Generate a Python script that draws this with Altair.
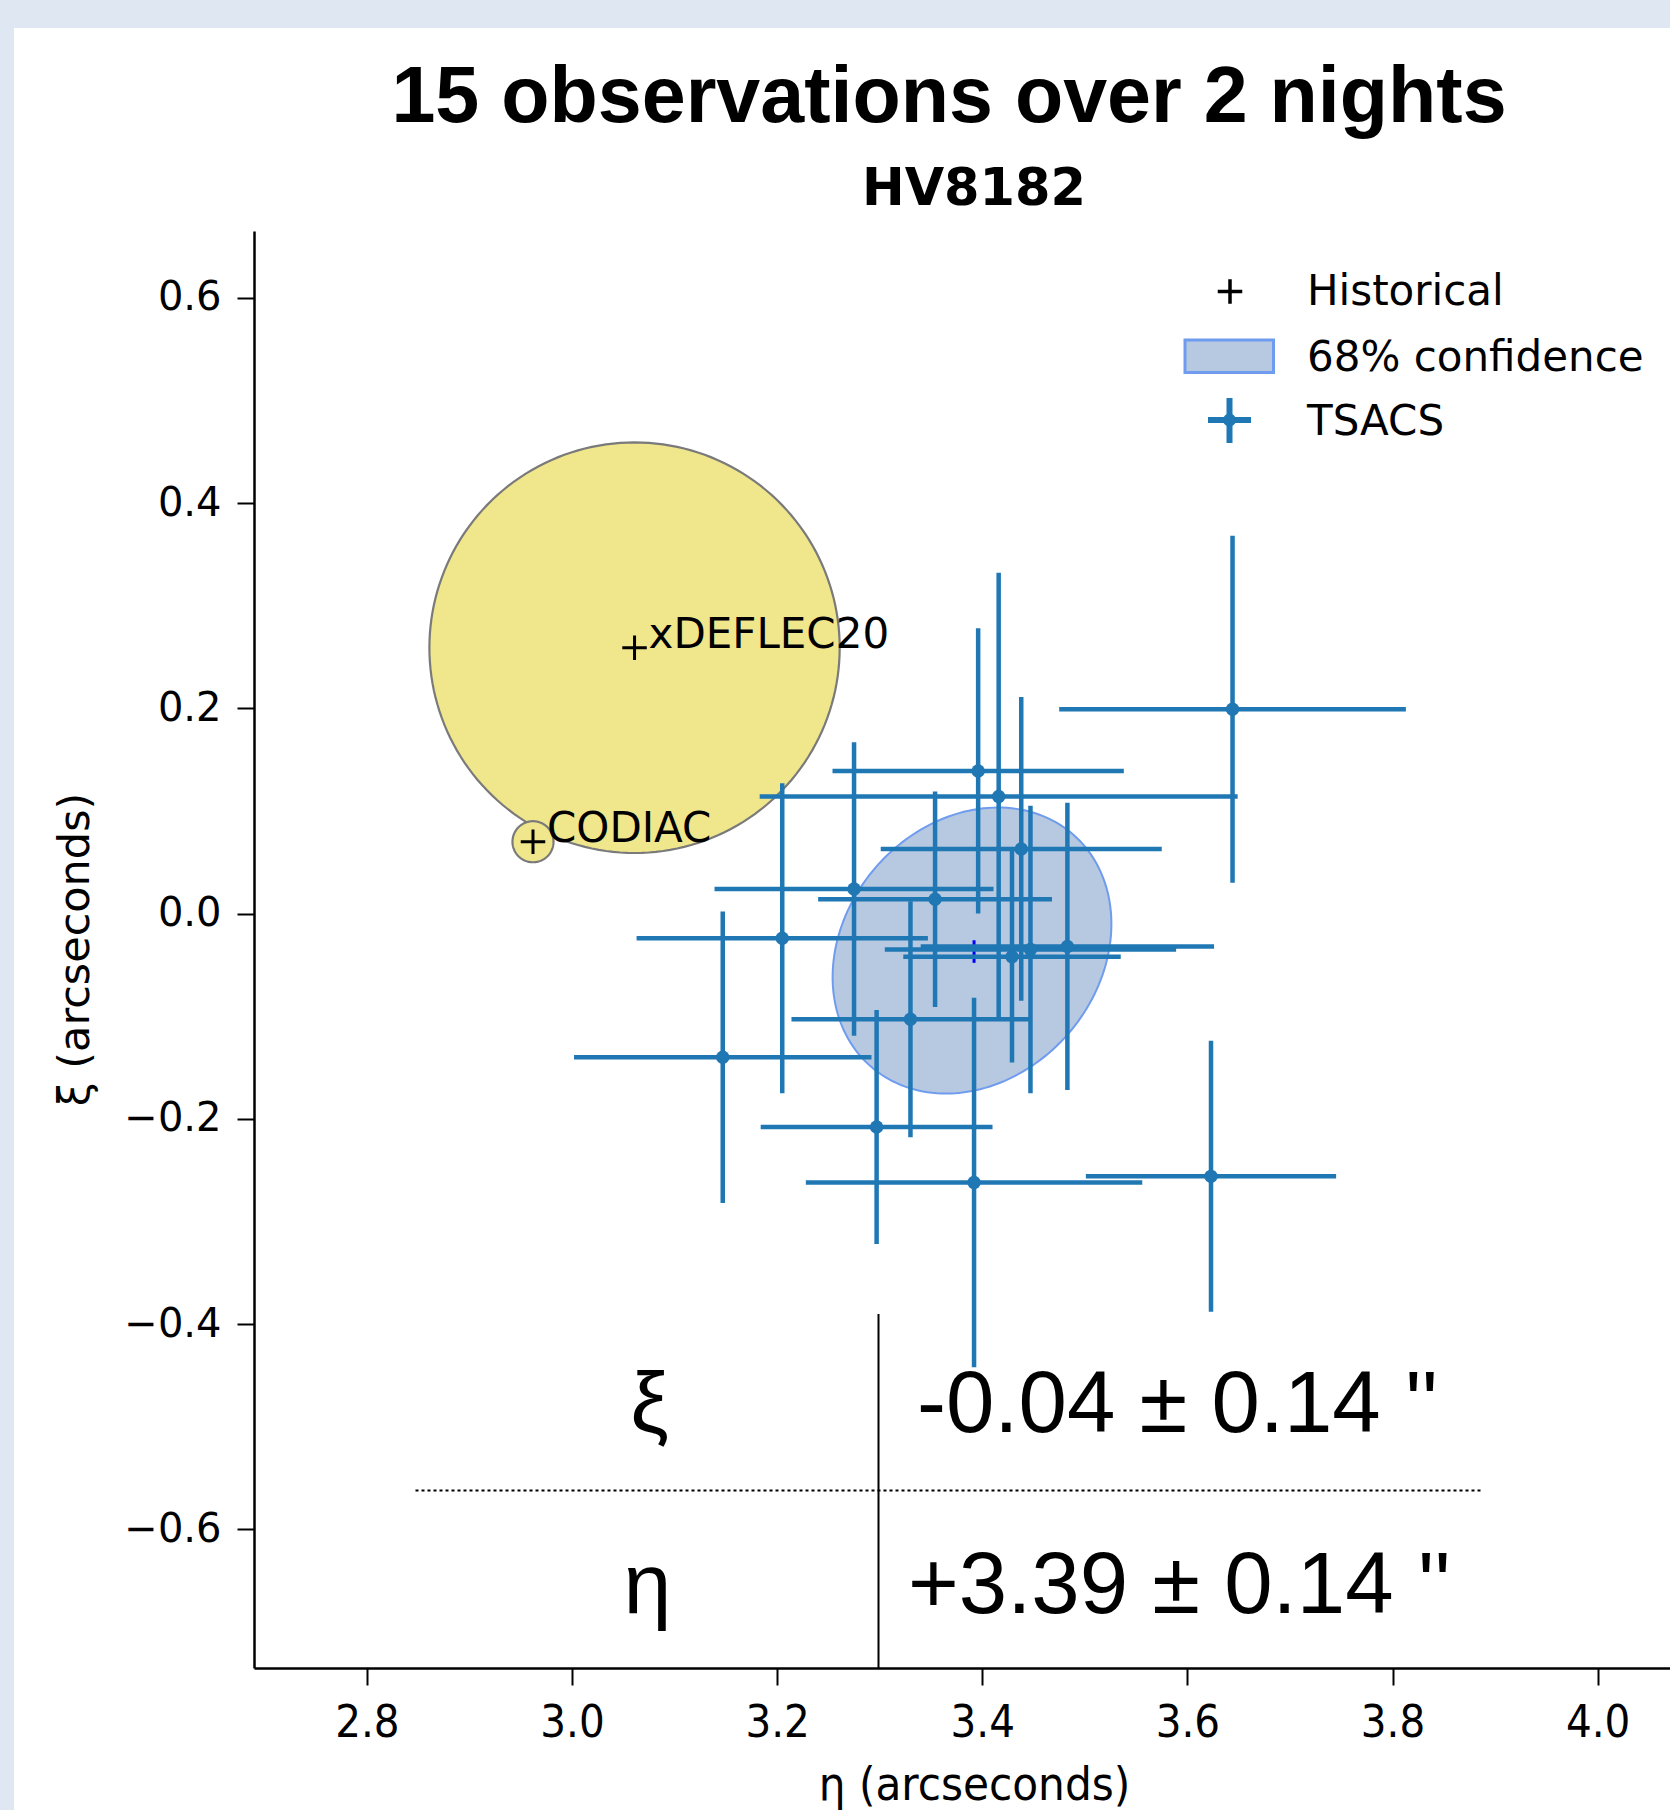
import altair as alt
import pandas as pd

# ----------------------------- data -----------------------------
tsacs_eta = [3.644, 3.396, 3.416, 3.438, 3.275, 3.354, 3.330, 3.205,
             3.147, 3.297, 3.392, 3.623, 3.483, 3.429, 3.447]
tsacs_xi = [0.199, 0.139, 0.114, 0.063, 0.024, 0.014, -0.103, -0.024,
            -0.140, -0.208, -0.262, -0.256, -0.032, -0.042, -0.035]
tsacs_eta_err = [0.169, 0.142, 0.233, 0.137, 0.136, 0.114, 0.116, 0.142,
                 0.145, 0.113, 0.164, 0.122, 0.143, 0.106, 0.142]
tsacs_xi_err = [0.169, 0.139, 0.218, 0.148, 0.143, 0.105, 0.115, 0.151,
                0.142, 0.114, 0.180, 0.132, 0.140, 0.103, 0.140]

hist_names = ["xDEFLEC20", "CODIAC"]
hist_eta = [3.061, 2.962]
hist_xi = [0.259, 0.070]
hist_radius = [0.200, 0.020]

conf_eta = [3.390]
conf_xi = [-0.036]
conf_semi_major = [0.150]
conf_semi_minor = [0.124]
conf_angle_deg = [48.8]

mean_eta = [3.392]
mean_xi = [-0.037]
mean_xi_err = [0.011]

result_symbols = ["ξ", "η"]
result_values = ["-0.04 ± 0.14 ''", "+3.39 ± 0.14 ''"]

legend_labels = ["Historical", "68% confidence", "TSACS"]

x_ticks = [2.8, 3.0, 3.2, 3.4, 3.6, 3.8, 4.0]
y_ticks = [-0.6, -0.4, -0.2, 0.0, 0.2, 0.4, 0.6]

slide_title = "15 observations over 2 nights"
plot_title = "HV8182"
x_title = "η (arcseconds)"
y_title = "ξ (arcseconds)"

# ----------------------------- tables -----------------------------
tsacs_df = pd.DataFrame({"eta": tsacs_eta, "xi": tsacs_xi,
                         "eta_err": tsacs_eta_err, "xi_err": tsacs_xi_err})
hist_df = pd.DataFrame({"name": hist_names, "eta": hist_eta, "xi": hist_xi, "r": hist_radius})
conf_df = pd.DataFrame({"cx": conf_eta, "cy": conf_xi, "a": conf_semi_major,
                        "b": conf_semi_minor, "ang": conf_angle_deg})
mean_df = pd.DataFrame({"eta": mean_eta, "xi": mean_xi, "err": mean_xi_err})

# ----------------------------- layout / style -----------------------------
W, H = 1416, 1437
BLUE = "#1f77b4"
KHAKI = "#f0e68c"
EDGE_GRAY = "#7a7a7a"
CONF_FILL = "#b7c8e1"
CONF_EDGE = "#6f9cee"
PLUS = "M-1,0L1,0M0,-1L0,1"

xs = alt.Scale(domain=[2.69, 4.0705], nice=False, zero=False)
ys = alt.Scale(domain=[-0.735, 0.665], nice=False, zero=False)

x_axis = alt.Axis(
    title=x_title, values=x_ticks, format=".1f", grid=False, zindex=1,
    labelFont="DejaVu Sans Condensed", labelFontSize=45, labelColor="black",
    labelPadding=15, labelFlush=False, labelOverlap=False,
    titleFont="DejaVu Sans Condensed", titleFontSize=47, titleFontWeight="normal",
    titleColor="black", titleX=720, titleY=131, titleBaseline="alphabetic",
    titleAnchor="start", titleAlign="center",
    domainColor="black", domainWidth=2.5, tickColor="black", tickWidth=2, tickSize=17,
)
y_axis = alt.Axis(
    title=y_title, values=y_ticks, format=".1f", grid=False, zindex=1,
    labelFont="DejaVu Sans", labelFontSize=40, labelColor="black",
    labelPadding=16, labelFlush=False, labelOverlap=False,
    titleFont="DejaVu Sans", titleFontSize=43, titleFontWeight="normal",
    titleColor="black", titleX=-179, titleY=718, titleAngle=270,
    titleBaseline="middle", titleAlign="center",
    domainColor="black", domainWidth=2.5, tickColor="black", tickWidth=2, tickSize=17,
)


def X(field):
    return alt.X(field, type="quantitative", scale=xs, axis=x_axis)


def Y(field):
    return alt.Y(field, type="quantitative", scale=ys, axis=y_axis)


one = alt.Data(values=[{"k": 0}])

# ----------------------------- background panel -----------------------------
panel = alt.Chart(one).mark_rect(fill="white").encode(
    x=alt.value(-240), x2=alt.value(W), y=alt.value(-203), y2=alt.value(H + 142)
)

# ----------------------------- historical circles -----------------------------
def hist_circle(name):
    return (
        alt.Chart(hist_df)
        .transform_filter(alt.datum.name == name)
        .transform_calculate(deg="sequence(0, 362, 2)")
        .transform_flatten(["deg"])
        .transform_calculate(
            px="datum.eta + datum.r * cos(datum.deg * PI / 180)",
            py="datum.xi + datum.r * sin(datum.deg * PI / 180)",
        )
        .mark_line(fill=KHAKI, stroke=EDGE_GRAY, strokeWidth=2.2)
        .encode(x=X("px"), y=Y("py"), order=alt.Order("deg:Q"))
    )


circle_big = hist_circle(hist_names[0])
circle_small = hist_circle(hist_names[1])

# ----------------------------- 68% confidence ellipse -----------------------------
ellipse = (
    alt.Chart(conf_df)
    .transform_calculate(deg="sequence(0, 362, 2)")
    .transform_flatten(["deg"])
    .transform_calculate(
        t="datum.deg * PI / 180",
        p="datum.ang * PI / 180",
    )
    .transform_calculate(
        px="datum.cx + datum.a * cos(datum.t) * cos(datum.p) - datum.b * sin(datum.t) * sin(datum.p)",
        py="datum.cy + datum.a * cos(datum.t) * sin(datum.p) + datum.b * sin(datum.t) * cos(datum.p)",
    )
    .mark_line(fill=CONF_FILL, stroke=CONF_EDGE, strokeWidth=2)
    .encode(x=X("px"), y=Y("py"), order=alt.Order("deg:Q"))
)

mean_mark = (
    alt.Chart(mean_df)
    .transform_calculate(lo="datum.xi - datum.err", hi="datum.xi + datum.err")
    .mark_rule(color="#0000ff", strokeWidth=3)
    .encode(x=X("eta"), y=Y("lo"), y2="hi:Q")
)

# ----------------------------- TSACS error bars -----------------------------
bars_h = (
    alt.Chart(tsacs_df)
    .transform_calculate(lo="datum.eta - datum.eta_err", hi="datum.eta + datum.eta_err")
    .mark_rule(color=BLUE, strokeWidth=4.5)
    .encode(x=X("lo"), x2="hi:Q", y=Y("xi"))
)
bars_v = (
    alt.Chart(tsacs_df)
    .transform_calculate(lo="datum.xi - datum.xi_err", hi="datum.xi + datum.xi_err")
    .mark_rule(color=BLUE, strokeWidth=4.5)
    .encode(x=X("eta"), y=Y("lo"), y2="hi:Q")
)
dots = alt.Chart(tsacs_df).mark_point(
    shape="circle", filled=True, size=180, color=BLUE, opacity=1
).encode(x=X("eta"), y=Y("xi"))

# ----------------------------- historical markers & labels -----------------------------
hist_plus = alt.Chart(hist_df).mark_point(
    shape=PLUS, size=600, strokeWidth=3, color="black", filled=False, opacity=1
).encode(x=X("eta"), y=Y("xi"))
hist_text = alt.Chart(hist_df).mark_text(
    align="left", baseline="alphabetic", dx=14, font="DejaVu Sans", fontSize=42, color="black"
).encode(x=X("eta"), y=Y("xi"), text="name:N")

# ----------------------------- result table overlay -----------------------------
tbl_vline = alt.Chart(one).mark_rule(color="black", strokeWidth=2).encode(
    x=alt.value(624.5), y=alt.value(1083), y2=alt.value(H)
)
tbl_hline = alt.Chart(one).mark_rule(color="black", strokeWidth=2, strokeDash=[3, 3]).encode(
    x=alt.value(161.5), x2=alt.value(1229), y=alt.value(1259.5)
)
tbl_sym1 = alt.Chart(one).mark_text(
    text=result_symbols[0], font="Liberation Sans", fontSize=86, align="center",
    baseline="alphabetic", color="black"
).encode(x=alt.value(395.5), y=alt.value(1200.5))
tbl_sym2 = alt.Chart(one).mark_text(
    text=result_symbols[1], font="Liberation Sans", fontSize=86, align="center",
    baseline="alphabetic", color="black"
).encode(x=alt.value(393.5), y=alt.value(1382))
tbl_val1 = alt.Chart(one).mark_text(
    text=result_values[0], font="Liberation Sans", fontSize=87, align="left",
    baseline="alphabetic", color="black"
).encode(x=alt.value(663), y=alt.value(1200.5))
tbl_val2 = alt.Chart(one).mark_text(
    text=result_values[1], font="Liberation Sans", fontSize=87, align="left",
    baseline="alphabetic", color="black"
).encode(x=alt.value(654), y=alt.value(1382))

# ----------------------------- legend -----------------------------
leg_plus = alt.Chart(one).mark_point(
    shape=PLUS, size=600, strokeWidth=3.5, color="black", filled=False, opacity=1
).encode(x=alt.value(976), y=alt.value(60.5))
leg_rect = alt.Chart(one).mark_rect(fill=CONF_FILL, stroke=CONF_EDGE, strokeWidth=3).encode(
    x=alt.value(931), x2=alt.value(1019.5), y=alt.value(109), y2=alt.value(141.5)
)
leg_cross_h = alt.Chart(one).mark_rule(color=BLUE, strokeWidth=6).encode(
    x=alt.value(954), x2=alt.value(997), y=alt.value(189)
)
leg_cross_v = alt.Chart(one).mark_rule(color=BLUE, strokeWidth=6).encode(
    x=alt.value(975.5), y=alt.value(167), y2=alt.value(212)
)
leg_dot = alt.Chart(one).mark_point(
    shape="circle", filled=True, size=170, color=BLUE, opacity=1
).encode(x=alt.value(975.5), y=alt.value(189))


def leg_text(label, ypos):
    return alt.Chart(one).mark_text(
        text=label, font="DejaVu Sans", fontSize=42, align="left",
        baseline="alphabetic", color="black"
    ).encode(x=alt.value(1053), y=alt.value(ypos))


leg_t1 = leg_text(legend_labels[0], 74)
leg_t2 = leg_text(legend_labels[1], 140)
leg_t3 = leg_text(legend_labels[2], 204)

# ----------------------------- titles -----------------------------
title_main = alt.Chart(one).mark_text(
    text=slide_title, font="Liberation Sans", fontSize=79, fontWeight="bold",
    align="center", baseline="alphabetic", color="black"
).encode(x=alt.value(695), y=alt.value(-109))
title_sub = alt.Chart(one).mark_text(
    text=plot_title, font="DejaVu Sans", fontSize=51, fontWeight="bold",
    align="center", baseline="alphabetic", color="black"
).encode(x=alt.value(720), y=alt.value(-26))

chart = alt.layer(
    panel,
    circle_big, circle_small,
    ellipse, mean_mark,
    bars_h, bars_v, dots,
    hist_plus, hist_text,
    tbl_vline, tbl_hline, tbl_sym1, tbl_sym2, tbl_val1, tbl_val2,
    leg_plus, leg_rect, leg_cross_h, leg_cross_v, leg_dot, leg_t1, leg_t2, leg_t3,
    title_main, title_sub,
).properties(
    width=W, height=H,
    padding={"left": 254, "top": 231, "right": 0, "bottom": 142},
    autosize=alt.AutoSizeParams(type="none"),
    background="#dfe7f2",
).configure_view(stroke=None)

chart.save("out.html", embed_options={"renderer": "svg", "actions": False})
